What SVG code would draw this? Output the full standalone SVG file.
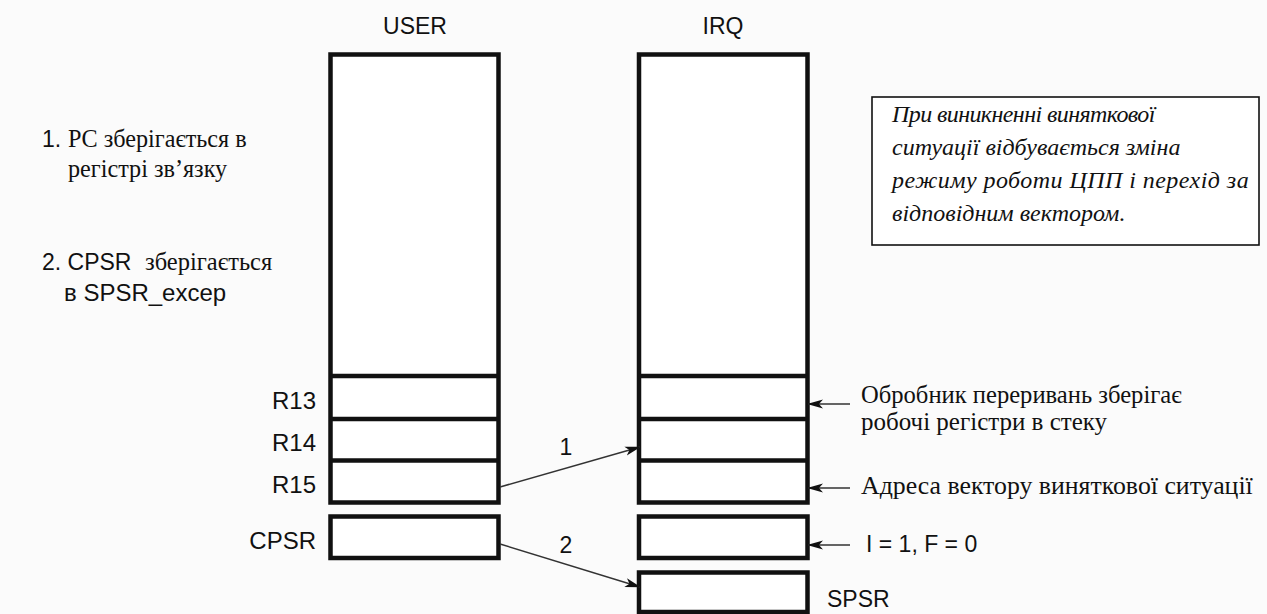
<svg xmlns="http://www.w3.org/2000/svg" width="1267" height="614" viewBox="0 0 1267 614">
<style>
.box{fill:#fff;stroke:#111;stroke-width:4.5}
.div{stroke:#111;stroke-width:4.5;fill:none}
.sans{font-family:"Liberation Sans",Arial,sans-serif;font-size:23px;fill:#111}
.reg{font-size:24px}
.serif{font-family:"Liberation Serif","Times New Roman",serif;font-size:25px;fill:#111}
.ital{font-family:"Liberation Serif","Times New Roman",serif;font-size:24px;font-style:italic;fill:#111}
.conn{stroke:#333;stroke-width:1.5;fill:none;marker-end:url(#ah)}
</style>
<defs>
<marker id="ah" viewBox="0 0 16 10" refX="15" refY="5" markerWidth="16" markerHeight="10" markerUnits="userSpaceOnUse" orient="auto">
<path d="M0,0.5 L16,5 L0,9.5 L4,5 z" fill="#111"/>
</marker>
</defs>
<rect width="1267" height="614" fill="#fbfbfb"/>

<g id="user-col">
<text class="sans" x="415" y="34" text-anchor="middle">USER</text>
<rect class="box" x="330.5" y="54.5" width="168" height="448"/>
<line class="div" x1="330.5" y1="376" x2="498.5" y2="376"/>
<line class="div" x1="330.5" y1="419" x2="498.5" y2="419"/>
<line class="div" x1="330.5" y1="460.5" x2="498.5" y2="460.5"/>
<text class="sans reg" x="316" y="409" text-anchor="end">R13</text>
<text class="sans reg" x="316" y="451" text-anchor="end">R14</text>
<text class="sans reg" x="316" y="493" text-anchor="end">R15</text>
</g>
<g id="user-cpsr">
<rect class="box" x="330.5" y="516.5" width="168" height="41.5"/>
<text class="sans reg" x="316" y="549" text-anchor="end">CPSR</text>
</g>

<g id="irq-col">
<text class="sans" x="723" y="34" text-anchor="middle">IRQ</text>
<rect class="box" x="639" y="54.5" width="168.5" height="448"/>
<line class="div" x1="639" y1="376" x2="807.5" y2="376"/>
<line class="div" x1="639" y1="419" x2="807.5" y2="419"/>
<line class="div" x1="639" y1="460.5" x2="807.5" y2="460.5"/>
</g>
<g id="irq-cpsr">
<rect class="box" x="639" y="516.5" width="168.5" height="41.5"/>
</g>
<g id="irq-spsr">
<rect class="box" x="639" y="572.5" width="168.5" height="39.5"/>
<text class="sans" x="827" y="607">SPSR</text>
</g>

<g id="notes-left">
<text class="sans" x="42" y="147">1.</text>
<text class="serif" x="68" y="147" style="font-size:24.2px">PC зберігається в</text>
<text class="serif" x="68" y="177" style="font-size:24.2px">регістрі зв’язку</text>
<text class="sans" x="42" y="270">2. CPSR</text>
<text class="serif" x="145" y="270" style="font-size:24.5px">зберігається</text>
<text class="sans reg" x="64" y="301">в SPSR_excep</text>
</g>

<g id="note-box">
<rect x="872" y="97" width="387" height="148" fill="#fff" stroke="#111" stroke-width="1.6"/>
<text class="ital" x="892" y="122" style="letter-spacing:-0.6px">При виникненні виняткової</text>
<text class="ital" x="892" y="155">ситуації відбувається зміна</text>
<text class="ital" x="892" y="188" style="letter-spacing:0.45px">режиму роботи ЦПП і перехід за</text>
<text class="ital" x="892" y="221">відповідним вектором.</text>
</g>

<g id="notes-right">
<text class="serif" x="861" y="403" style="font-size:24.6px">Обробник переривань зберігає</text>
<text class="serif" x="861" y="430">робочі регістри в стеку</text>
<text class="serif" x="861" y="494" style="font-size:25.8px">Адреса вектору виняткової ситуації</text>
<text class="sans" x="866" y="552">I = 1, F = 0</text>
</g>

<g id="connectors">
<line class="conn" x1="500" y1="487" x2="640" y2="447"/>
<text class="sans" x="566" y="455" text-anchor="middle">1</text>
<line class="conn" x1="500" y1="544" x2="640" y2="587"/>
<text class="sans" x="566" y="553" text-anchor="middle">2</text>
<line class="conn" x1="850" y1="404" x2="808" y2="404"/>
<line class="conn" x1="850" y1="488" x2="808" y2="488"/>
<line class="conn" x1="850" y1="545" x2="808" y2="545"/>
</g>
</svg>
